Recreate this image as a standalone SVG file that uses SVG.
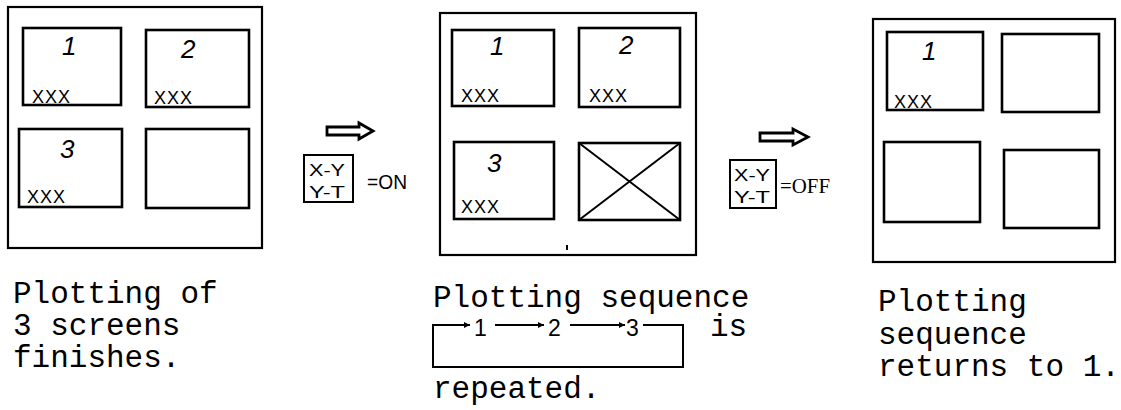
<svg xmlns="http://www.w3.org/2000/svg" width="1121" height="410" viewBox="0 0 1121 410">
<style>
.frame{fill:none;stroke:#000;stroke-width:2.2}
.scr{fill:none;stroke:#000;stroke-width:2.6}
.num{font-family:"Liberation Sans",sans-serif;font-size:26px;fill:#000;font-style:italic}
.xxx{font-family:"Liberation Sans",sans-serif;font-size:18px;fill:#000;letter-spacing:1px}
.cap{font-family:"Liberation Mono",monospace;font-size:31px;fill:#000}
.seq{font-family:"Liberation Sans",sans-serif;font-size:23px;fill:#000}
.key{fill:none;stroke:#000;stroke-width:2}
.keyt{font-family:"Liberation Sans",sans-serif;font-size:17px;fill:#000}
.big{fill:#fff;stroke:#000;stroke-width:2.8;stroke-linejoin:miter}
.ln{fill:none;stroke:#000;stroke-width:2}
</style>
<defs>
<marker id="ah" viewBox="0 0 10 10" refX="10" refY="5" markerWidth="8" markerHeight="6" orient="auto" markerUnits="userSpaceOnUse">
<path d="M0,0 L10,5 L0,10 Z" fill="#000"/>
</marker>
</defs>

<g id="panel1">
<rect class="frame" x="8" y="7" width="254" height="241"/>
<rect class="scr" x="23" y="28" width="98" height="77"/>
<rect class="scr" x="146" y="30" width="103" height="77"/>
<rect class="scr" x="19" y="129" width="103" height="78"/>
<rect class="scr" x="146" y="129" width="103" height="79"/>
<text class="num" x="62" y="55">1</text>
<text class="num" x="181" y="58">2</text>
<text class="num" x="60" y="158">3</text>
<text class="xxx" x="32" y="103">XXX</text>
<text class="xxx" x="154" y="104">XXX</text>
<text class="xxx" x="27" y="203">XXX</text>
</g>

<g id="switch-on">
<rect class="key" x="304" y="155" width="49" height="47"/>
<text class="keyt" x="309" y="176" textLength="36" lengthAdjust="spacingAndGlyphs">X-Y</text>
<text class="keyt" x="309" y="198" textLength="36" lengthAdjust="spacingAndGlyphs">Y-T</text>
<text x="367" y="189" font-family="Liberation Sans, sans-serif" font-size="20" textLength="40" lengthAdjust="spacingAndGlyphs">=ON</text>
</g>

<g id="panel2">
<rect class="frame" x="440" y="13" width="256" height="242"/>
<rect class="scr" x="452" y="30" width="102" height="76"/>
<rect class="scr" x="579" y="28" width="101" height="79"/>
<rect class="scr" x="454" y="142" width="100" height="77"/>
<rect class="scr" x="579" y="143" width="101" height="77"/>
<path class="ln" d="M579,143 L680,220 M680,143 L579,220"/>
<path class="ln" d="M567,245 L567,250"/>
<text class="num" x="490" y="55">1</text>
<text class="num" x="619" y="54">2</text>
<text class="num" x="487" y="172">3</text>
<text class="xxx" x="461" y="102">XXX</text>
<text class="xxx" x="589" y="102">XXX</text>
<text class="xxx" x="461" y="213">XXX</text>
</g>

<g id="switch-off">
<rect class="key" x="730" y="160" width="46" height="48"/>
<text class="keyt" x="734" y="181" textLength="36" lengthAdjust="spacingAndGlyphs">X-Y</text>
<text class="keyt" x="734" y="203" textLength="36" lengthAdjust="spacingAndGlyphs">Y-T</text>
<text x="780" y="193" font-family="Liberation Serif, serif" font-size="22" textLength="50" lengthAdjust="spacingAndGlyphs">=OFF</text>
</g>

<g id="panel3">
<rect class="frame" x="873" y="19" width="242" height="243"/>
<rect class="scr" x="887" y="32" width="96" height="78"/>
<rect class="scr" x="1002" y="34" width="97" height="78"/>
<rect class="scr" x="884" y="142" width="96" height="80"/>
<rect class="scr" x="1004" y="150" width="95" height="78"/>
<text class="num" x="922" y="60">1</text>
<text class="xxx" x="894" y="108">XXX</text>
</g>

<g id="connectors">
<path class="big" d="M327,127 L359,127 L359,123 L373,131 L359,139 L359,135 L327,135 Z"/>
<path class="big" d="M760,133 L793,133 L793,129 L808,137 L793,145 L793,141 L760,141 Z"/>
<path class="ln" d="M643,325 L683,325 L683,367 L433,367 L433,325 L470,325" marker-end="url(#ah)"/>
<path class="ln" d="M495,325 L544,325" marker-end="url(#ah)"/>
<path class="ln" d="M570,325 L625,325" marker-end="url(#ah)"/>
</g>

<g id="captions">
<text class="cap" x="13" y="303">Plotting of</text>
<text class="cap" x="13" y="335">3 screens</text>
<text class="cap" x="13" y="367">finishes.</text>
<text class="cap" x="433" y="307">Plotting sequence</text>
<text class="seq" x="474" y="336">1</text>
<text class="seq" x="548" y="336">2</text>
<text class="seq" x="626" y="336">3</text>
<text class="cap" x="710" y="336">is</text>
<text class="cap" x="433" y="398">repeated.</text>
<text class="cap" x="878" y="311">Plotting</text>
<text class="cap" x="878" y="344">sequence</text>
<text class="cap" x="878" y="376">returns to 1.</text>
</g>
</svg>
